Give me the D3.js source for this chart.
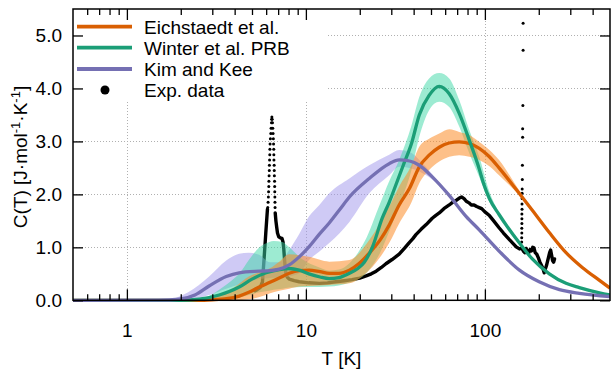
<!DOCTYPE html>
<html>
<head>
<meta charset="utf-8">
<script src="https://cdn.jsdelivr.net/npm/d3@7"></script>
<style>
  html, body { margin: 0; padding: 0; background: #fff; }
  svg { display: block; font-family: "Liberation Sans", Arial, Helvetica, sans-serif; }
</style>
</head>
<body>
<div id="chart"></div>
<script>
// ---- data: [T (K), C (J/mol/K)] ----
const eichstaedt = [[0.5,0],[2.5,0],[3.0,0.01],[3.6,0.03],[4.24,0.08],[4.8,0.15],[5.48,0.25],[6.3,0.34],[7.1,0.42],[8.07,0.51],[9.18,0.56],[10.4,0.57],[12,0.54],[13.5,0.51],[15.3,0.51],[17.5,0.57],[19.9,0.7],[22.6,0.89],[26,1.14],[29.2,1.42],[33.2,1.8],[38,2.12],[43,2.52],[48.8,2.74],[55.6,2.89],[63.2,2.97],[71.9,2.99],[81.9,2.96],[93,2.87],[106,2.71],[120,2.5],[149,2.1],[184,1.7],[229,1.28],[284,0.9],[350,0.62],[435,0.38],[500,0.23]]
const winter = [[0.5,0],[2.0,0],[2.53,0.02],[3.28,0.1],[4.24,0.25],[5.0,0.4],[6.0,0.52],[7.1,0.58],[8.0,0.6],[9.18,0.57],[10.4,0.5],[12,0.44],[13.5,0.41],[15.3,0.43],[17.5,0.51],[19.5,0.6],[21.2,0.72],[23.5,1.0],[26.7,1.55],[29.2,1.85],[32,2.2],[35,2.55],[38.9,2.96],[43,3.5],[48.8,3.87],[55.6,4.04],[63.2,3.9],[71.9,3.53],[81.9,3.02],[93,2.48],[98.4,2.2],[106,1.92],[120,1.62],[136,1.35],[156,1.08],[184,0.78],[229,0.5],[284,0.32],[337,0.24],[437,0.14],[500,0.1]]
const kimKee = [[0.5,0],[1.5,0.002],[1.96,0.02],[2.4,0.1],[2.88,0.27],[3.59,0.45],[4.24,0.52],[5.48,0.55],[6.3,0.56],[7.1,0.59],[8.07,0.67],[9.18,0.82],[10.4,1.01],[11.9,1.25],[13.5,1.46],[15.5,1.72],[17.5,1.95],[22.6,2.3],[29.2,2.58],[33.2,2.65],[38,2.63],[43,2.55],[50.8,2.33],[63.2,1.98],[78.7,1.58],[93,1.33],[120,0.93],[156,0.57],[201,0.35],[261,0.2],[337,0.13],[500,0.07]]

// uncertainty bands: [T, low, high]
const eichBand = [[2.5,0,0],[3.3,0,0.1],[4.0,0,0.25],[4.8,0.02,0.45],[5.5,0.06,0.53],[6.25,0.13,0.6],[7.1,0.18,0.73],[8.07,0.22,0.87],[9.18,0.26,0.85],[10.4,0.27,0.82],[13.5,0.29,0.73],[17.5,0.32,0.76],[22.6,0.57,1.14],[29.2,1.08,1.77],[33.2,1.45,2.15],[38.9,1.85,2.55],[43,2.21,2.9],[48.8,2.46,3.05],[55.6,2.62,3.15],[63.2,2.71,3.23],[71.9,2.74,3.18],[81.9,2.71,3.12],[93,2.65,2.99],[106,2.53,2.84],[120,2.36,2.65],[149,2.05,2.17],[184,1.7,1.7]]
const winterBand = [[2.6,0,0],[3.28,0,0.2],[4.0,0.03,0.42],[4.24,0.05,0.5],[4.8,0.1,0.76],[5.5,0.15,1.0],[6.25,0.18,1.1],[6.6,0.2,1.12],[7.4,0.22,1.1],[8.07,0.24,1.0],[9.5,0.25,0.78],[11.9,0.25,0.62],[13.5,0.26,0.56],[15.3,0.28,0.58],[17.5,0.33,0.7],[21.2,0.48,1.1],[26,0.9,1.83],[29.2,1.3,2.25],[33.2,1.78,2.65],[38.9,2.46,3.3],[43,3.09,3.84],[48.8,3.59,4.19],[55.6,3.75,4.29],[63.2,3.65,4.19],[71.9,3.28,3.78],[81.9,2.77,3.21],[93,2.33,2.71],[106,1.85,2.05],[120,1.6,1.66]]
const kimBand = [[1.8,0,0.02],[2.2,0.01,0.15],[2.88,0.1,0.45],[3.59,0.22,0.75],[4.24,0.3,0.88],[4.8,0.36,0.9],[5.48,0.4,0.86],[6.3,0.42,0.72],[7.1,0.43,0.72],[8.07,0.45,0.95],[9.18,0.51,1.25],[10.4,0.76,1.58],[11.9,0.92,1.8],[13.5,1.08,2.02],[17.5,1.48,2.3],[22.6,2.02,2.55],[29.2,2.36,2.75],[33.2,2.52,2.84],[38,2.5,2.8],[43,2.43,2.65],[50.8,2.28,2.38],[63.2,1.97,2.0]]

// experimental points: dense runs drawn joined, sparse runs as dots
const expRise = [[5.2,0.18],[5.34,0.2],[5.55,0.24],[5.72,0.35],[5.85,0.82],[5.97,1.27],[6.05,1.55],[6.1,1.72]]
const expPeakDots = [[6.125,1.75],[6.149,1.85],[6.173,1.95],[6.189,2.05],[6.205,2.15],[6.213,2.25],[6.229,2.35],[6.245,2.45],[6.253,2.55],[6.269,2.65],[6.285,2.75],[6.294,2.85],[6.31,2.95],[6.334,3.05],[6.367,3.15],[6.392,3.25],[6.425,3.35],[6.441,3.42],[6.458,3.46],[6.48,3.42],[6.505,3.35],[6.53,3.25],[6.555,3.15],[6.581,3.05],[6.598,2.95],[6.615,2.85],[6.623,2.75],[6.632,2.65],[6.649,2.55],[6.658,2.45],[6.667,2.35],[6.684,2.25],[6.692,2.15],[6.701,2.05],[6.71,1.95],[6.718,1.85],[6.727,1.75]]
const expMain = [[6.74,1.65],[6.8,1.5],[6.87,1.38],[6.94,1.27],[7.05,1.2],[7.2,1.18],[7.35,1.17],[7.45,1.1],[7.52,0.98],[7.58,0.82],[7.65,0.65],[7.73,0.51],[7.86,0.44],[8.07,0.4],[8.6,0.37],[9.18,0.35],[10.4,0.33],[11.9,0.32],[13.2,0.33],[14.7,0.35],[16.4,0.37],[18.1,0.39],[20,0.42],[21.7,0.46],[23.2,0.5],[24.7,0.55],[26.4,0.62],[28,0.69],[30.3,0.77],[33.2,0.87],[35.5,0.98],[37.6,1.08],[39.5,1.16],[41.2,1.24],[44,1.34],[47,1.43],[50.8,1.55],[53,1.6],[55.6,1.65],[59,1.73],[63.2,1.8],[66,1.85],[69.4,1.89],[72,1.93],[74.1,1.95],[76.5,1.92],[78.7,1.87],[81.5,1.84],[84,1.8],[87,1.8],[90,1.77],[93,1.75],[96,1.73],[100,1.67],[106,1.6],[112,1.5],[120,1.37],[127,1.27],[136.7,1.15],[143,1.08],[149.6,1.01],[156,0.97],[160.5,0.98]]
const expSpikeDots = [[160.6,1.1],[160.6,1.18],[160.8,1.27],[160.8,1.36],[161,1.45],[161,1.54],[161,1.63],[161.2,1.72],[161.2,1.82],[161.4,1.92],[161.4,2.02],[161.6,2.1],[161.8,2.28],[162,2.55],[162.5,3.08],[162.5,3.24],[163,3.68],[163.5,4.72],[163.5,5.23]]
const expTail = [[161,0.98],[164,0.93],[167,0.9],[170,0.98],[173,0.92],[176,0.9],[179,0.96],[182,0.93],[185,1.0],[188,0.99],[191,0.9],[195,0.87],[199,0.8],[203,0.72],[207,0.66],[211,0.6],[214.5,0.52],[218,0.6],[221,0.66],[224,0.74],[227,0.82],[230,0.9],[233,0.95],[236,0.85],[239,0.75],[242,0.72],[245,0.78]]

const xMajor = [1, 10, 100]
const xMinor = [0.6, 0.7, 0.8, 0.9, 2, 3, 4, 5, 6, 7, 8, 9, 20, 30, 40, 50, 60, 70, 80, 90, 200, 300, 400]
const yTicks = [0, 1, 2, 3, 4, 5]
const legendLabels = ['Eichstaedt et al.', 'Winter et al. PRB', 'Kim and Kee', 'Exp. data']

const W = 611, H = 369
const plot = { left: 73, right: 610, top: 9, bottom: 300.3 }
const FONT = 19

const svg = d3.select('#chart').append('svg').attr('width', W).attr('height', H)

const x = d3.scaleLog().domain([0.5, 500]).range([plot.left, plot.right])
const y = d3.scaleLinear().domain([0, 5.5]).range([plot.bottom, plot.top])

svg.append('defs').append('clipPath').attr('id', 'clip')
  .append('rect')
  .attr('x', plot.left).attr('y', plot.top)
  .attr('width', plot.right - plot.left).attr('height', plot.bottom - plot.top + 2)

// dotted grid
const grid = svg.append('g')
  .attr('stroke', '#b0b0b0').attr('stroke-width', 1).attr('stroke-dasharray', '1,2')
grid.selectAll('line.gx').data(xMajor).join('line')
  .attr('x1', d => Math.round(x(d)) + 0.5).attr('x2', d => Math.round(x(d)) + 0.5)
  .attr('y1', plot.top).attr('y2', plot.bottom)
grid.selectAll('line.gy').data(yTicks.slice(1)).join('line')
  .attr('x1', plot.left).attr('x2', plot.right)
  .attr('y1', d => Math.round(y(d)) + 0.5).attr('y2', d => Math.round(y(d)) + 0.5)

// opaque legend box hides grid behind key
svg.append('rect').attr('x', plot.left + 1).attr('y', plot.top + 1)
  .attr('width', 254).attr('height', 90).attr('fill', '#fff')

const body = svg.append('g').attr('clip-path', 'url(#clip)')

// experimental data (under the bands)
const expLine = d3.line().x(d => x(d[0])).y(d => y(d[1]))
body.selectAll('path.exp').data([expRise, expMain, expTail]).join('path')
  .attr('d', expLine)
  .attr('fill', 'none').attr('stroke', '#000').attr('stroke-width', 3.4)
  .attr('stroke-linejoin', 'round').attr('stroke-linecap', 'round')
body.selectAll('circle.exp').data(expPeakDots.concat(expSpikeDots)).join('circle')
  .attr('cx', d => x(d[0])).attr('cy', d => y(d[1])).attr('r', 1.5).attr('fill', '#000')

// bands
const area = d3.area().curve(d3.curveMonotoneX)
  .x(d => x(d[0])).y0(d => y(d[1])).y1(d => y(d[2]))
const bands = [
  { data: kimBand, fill: 'rgb(160,150,235)', op: 0.5 },
  { data: winterBand, fill: 'rgb(60,215,165)', op: 0.5 },
  { data: eichBand, fill: 'rgb(252,141,40)', op: 0.55 }
]
body.selectAll('path.band').data(bands).join('path')
  .attr('d', d => area(d.data))
  .attr('fill', d => d.fill).attr('fill-opacity', d => d.op)

// model curves
const series = [
  { data: eichstaedt, color: '#d95f02' },
  { data: winter, color: '#1b9e77' },
  { data: kimKee, color: '#7570b3' }
]
const line = d3.line().curve(d3.curveMonotoneX).x(d => x(d[0])).y(d => y(d[1]))
body.selectAll('path.model').data(series).join('path')
  .attr('d', d => line(d.data))
  .attr('fill', 'none').attr('stroke', d => d.color).attr('stroke-width', 3.3)

// legend
const rows = [26.7, 47.7, 69, 90]
const key = svg.append('g')
key.selectAll('line').data(series).join('line')
  .attr('x1', 77).attr('x2', 132)
  .attr('y1', (d, i) => rows[i]).attr('y2', (d, i) => rows[i])
  .attr('stroke', d => d.color).attr('stroke-width', 3.8)
key.append('circle').attr('cx', 105).attr('cy', rows[3]).attr('r', 4.5).attr('fill', '#000')
key.selectAll('text').data(legendLabels).join('text')
  .attr('x', 144).attr('y', (d, i) => rows[i] + 6.8)
  .attr('font-size', FONT).attr('fill', '#000')
  .text(d => d)

// axes
function styleAxis(g) {
  g.select('.domain').remove()
  g.attr('font-size', FONT).attr('font-family', null)
  g.selectAll('line').attr('stroke', '#000').attr('stroke-width', 1.3)
  g.selectAll('text').attr('fill', '#000')
}
svg.append('g').attr('transform', `translate(0,${plot.bottom})`)
  .call(d3.axisBottom(x).tickValues(xMajor).tickSize(-11).tickPadding(23).tickFormat(d3.format('d')))
  .call(styleAxis)
svg.append('g').attr('transform', `translate(0,${plot.bottom})`)
  .call(d3.axisBottom(x).tickValues(xMinor).tickSize(-6).tickFormat(''))
  .call(styleAxis)
svg.append('g').attr('transform', `translate(0,${plot.top})`)
  .call(d3.axisTop(x).tickValues(xMajor).tickSize(-11).tickFormat(''))
  .call(styleAxis)
svg.append('g').attr('transform', `translate(0,${plot.top})`)
  .call(d3.axisTop(x).tickValues(xMinor).tickSize(-6).tickFormat(''))
  .call(styleAxis)
svg.append('g').attr('transform', `translate(${plot.left},0)`)
  .call(d3.axisLeft(y).tickValues(yTicks).tickSize(-10).tickPadding(11).tickFormat(d3.format('.1f')))
  .call(styleAxis)
svg.append('g').attr('transform', `translate(${plot.right},0)`)
  .call(d3.axisRight(y).tickValues(yTicks).tickSize(-10).tickFormat(''))
  .call(styleAxis)

svg.append('rect')
  .attr('x', plot.left).attr('y', plot.top)
  .attr('width', plot.right - plot.left).attr('height', plot.bottom - plot.top)
  .attr('fill', 'none').attr('stroke', '#000').attr('stroke-width', 1.5)

// axis titles
svg.append('text')
  .attr('x', (plot.left + plot.right) / 2).attr('y', 365)
  .attr('text-anchor', 'middle').attr('font-size', FONT)
  .text('T [K]')

const yTitle = svg.append('text')
  .attr('transform', `translate(27,${157}) rotate(-90)`)
  .attr('text-anchor', 'middle').attr('font-size', FONT)
yTitle.append('tspan').text('C(T) [J·mol')
yTitle.append('tspan').attr('dy', -7).attr('font-size', 13).text('-1')
yTitle.append('tspan').attr('dy', 7).text('·K')
yTitle.append('tspan').attr('dy', -7).attr('font-size', 13).text('-1')
yTitle.append('tspan').attr('dy', 7).text(']')
</script>
</body>
</html>
